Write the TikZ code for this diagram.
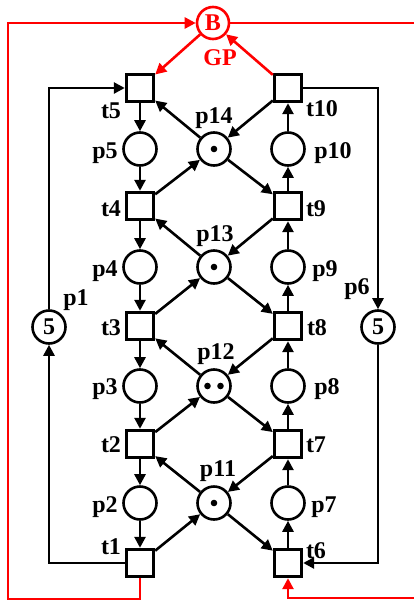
\documentclass[tikz,border=0pt]{standalone}
\usepackage{fontspec}
\setmainfont{Liberation Serif}
\usetikzlibrary{arrows.meta}
\begin{document}
\begin{tikzpicture}[x=1pt,y=-1pt,
  trans/.style={draw,rectangle,line width=3.4pt,minimum size=27pt,inner sep=0pt,fill=white},
  place/.style={draw,circle,line width=2.6pt,minimum size=33pt,inner sep=0pt,font=\fontsize{24}{24}\selectfont\bfseries},
  arc/.style={line width=2.6pt,-{Triangle[length=11pt,width=11pt]}},
  redarc/.style={line width=2.6pt,red,-{Triangle[length=11pt,width=11pt]}},
  lab/.style={anchor=base,inner sep=0pt,font=\fontsize{24}{24}\selectfont\bfseries},
  tok/.style={fill=black}
]
\useasboundingbox (0,0) rectangle (414,600);
% transitions
\node[trans] (t5) at (140,88) {};
\node[trans] (t4) at (140,206) {};
\node[trans] (t3) at (140,326) {};
\node[trans] (t2) at (140,444) {};
\node[trans] (t1) at (140,563) {};
\node[trans] (t10) at (288,88) {};
\node[trans] (t9) at (288,206) {};
\node[trans] (t8) at (288,326) {};
\node[trans] (t7) at (288,444) {};
\node[trans] (t6) at (288,563) {};
% places
\node[place] (p5) at (140,149) {};
\node[place] (p4) at (140,267) {};
\node[place] (p3) at (140,386) {};
\node[place] (p2) at (140,503) {};
\node[place] (p10) at (288,149) {};
\node[place] (p9) at (288,267) {};
\node[place] (p8) at (288,386) {};
\node[place] (p7) at (288,503) {};
\node[place] (p14) at (214,149) {};
\node[place] (p13) at (214,267) {};
\node[place] (p12) at (214,386) {};
\node[place] (p11) at (214,503) {};
\node[place] (p1) at (49,327) {5};
\node[place] (p6) at (378,327) {5};
\node[place,red,minimum size=32pt] (B) at (213,23) {B};
% tokens
\fill[tok] (p14.center) circle[radius=3.3pt];
\fill[tok] (p13.center) circle[radius=3.3pt];
\fill[tok] (p11.center) circle[radius=3.3pt];
\fill[tok] ([xshift=-6.5pt]p12.center) circle[radius=3.3pt];
\fill[tok] ([xshift=6.5pt]p12.center) circle[radius=3.3pt];
% left column
\draw[arc] (t5) -- (p5);
\draw[arc] (p5) -- (t4);
\draw[arc] (t4) -- (p4);
\draw[arc] (p4) -- (t3);
\draw[arc] (t3) -- (p3);
\draw[arc] (p3) -- (t2);
\draw[arc] (t2) -- (p2);
\draw[arc] (p2) -- (t1);
% right column
\draw[arc] (t6) -- (p7);
\draw[arc] (p7) -- (t7);
\draw[arc] (t7) -- (p8);
\draw[arc] (p8) -- (t8);
\draw[arc] (t8) -- (p9);
\draw[arc] (p9) -- (t9);
\draw[arc] (t9) -- (p10);
\draw[arc] (p10) -- (t10);
% middle
\draw[arc] (t1) -- (p11);
\draw[arc] (p11) -- (t2);
\draw[arc] (t2) -- (p12);
\draw[arc] (p12) -- (t3);
\draw[arc] (t3) -- (p13);
\draw[arc] (p13) -- (t4);
\draw[arc] (t4) -- (p14);
\draw[arc] (p14) -- (t5);
\draw[arc] (t10) -- (p14);
\draw[arc] (p14) -- (t9);
\draw[arc] (t9) -- (p13);
\draw[arc] (p13) -- (t8);
\draw[arc] (t8) -- (p12);
\draw[arc] (p12) -- (t7);
\draw[arc] (t7) -- (p11);
\draw[arc] (p11) -- (t6);
% outer loops
\draw[arc] (t1.west) -| (p1.south);
\draw[arc] (p1.north) |- (t5.west);
\draw[arc] (t10.east) -| (p6.north);
\draw[arc] (p6.south) |- (t6.east);
% red
\coordinate (bl) at (8,599);
\coordinate (br) at (417,598);
\draw[redarc] (t1.south) |- (bl) |- (B.west);
\draw[redarc] (B.east) -| (br) -| (t6.south);
\draw[redarc] (B) -- (t5);
\draw[redarc] (t10) -- (B);
% labels
\node[lab,red] (lgp) at (220,65) {GP};
\node[lab] (lt5) at (111,118) {t5};
\node[lab] (lt4) at (111,216) {t4};
\node[lab] (lt3) at (111,335) {t3};
\node[lab] (lt2) at (111,452) {t2};
\node[lab] (lt1) at (111,554) {t1};
\node[lab] (lt10) at (322,116) {t10};
\node[lab] (lt9) at (316,216) {t9};
\node[lab] (lt8) at (317,335) {t8};
\node[lab] (lt7) at (316,452) {t7};
\node[lab] (lt6) at (316,558) {t6};
\node[lab] (lp5) at (105,158) {p5};
\node[lab] (lp4) at (105,276) {p4};
\node[lab] (lp3) at (105,394) {p3};
\node[lab] (lp2) at (105,512) {p2};
\node[lab] (lp10) at (333,158) {p10};
\node[lab] (lp9) at (325,276) {p9};
\node[lab] (lp8) at (327,394) {p8};
\node[lab] (lp7) at (324,512) {p7};
\node[lab] (lp14) at (214,123) {p14};
\node[lab] (lp13) at (215,241) {p13};
\node[lab] (lp12) at (216,359) {p12};
\node[lab] (lp11) at (218,476) {p11};
\node[lab] (lp1) at (76,305) {p1};
\node[lab] (lp6) at (357,294) {p6};
\end{tikzpicture}
\end{document}
